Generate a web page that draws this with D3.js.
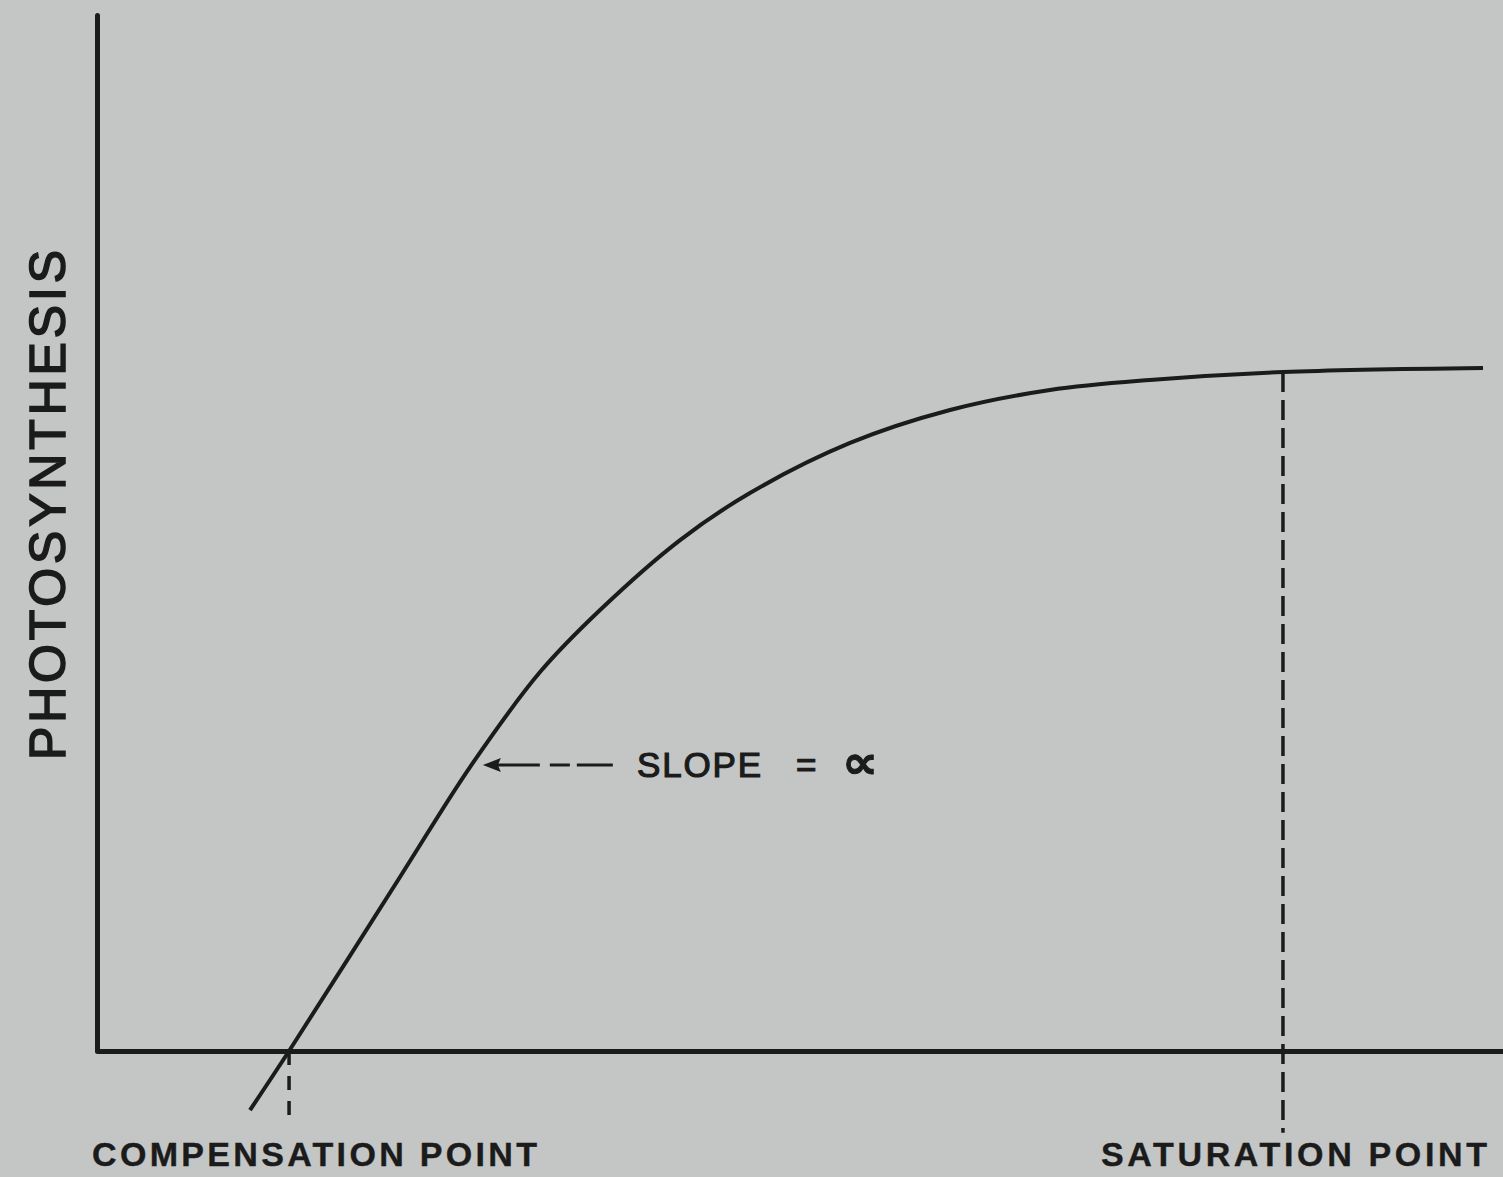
<!DOCTYPE html>
<html>
<head>
<meta charset="utf-8">
<script src="https://cdn.jsdelivr.net/npm/d3@7"></script>
<style>
  body { margin: 0; background: #c4c6c5; }
  svg { display: block; }
</style>
</head>
<body>
<div id="chart"></div>
<script>
// light intensity (arbitrary units) and photosynthesis rate
var light = [10.88, 13.66, 21.55, 26.53, 31.51, 35.78, 41.47, 46.44, 53.56, 60.67, 67.78, 74.89, 84.35, 98.58];
var rate  = [-5.70, 0.00, 16.80, 27.41, 36.58, 42.57, 49.32, 53.86, 58.69, 61.87, 63.80, 64.77, 65.54, 65.93];

var compensationPoint = 13.66;
var saturationPoint = 84.35;
var slopeAt = [27.3, 27.6];   // where the slope arrow touches the curve
var labels = ["COMPENSATION POINT", "SATURATION POINT"];

var ink = "#1b1b1b";
var font = "Liberation Sans, Arial, sans-serif";

var svg = d3.select("#chart")
            .append("svg")
            .attr("width", 1503)
            .attr("height", 1177);

var x = d3.scaleLinear().domain([0, 100]).range([97, 1503]);
var y = d3.scaleLinear().domain([0, 100]).range([1051, 15]);

// axes, no ticks
svg.append("g")
    .attr("transform", "translate(0," + y(0) + ")")
    .call(d3.axisBottom(x).ticks(0).tickSizeOuter(0))
    .select(".domain")
    .attr("stroke", ink)
    .attr("stroke-width", 5);

svg.append("g")
    .attr("transform", "translate(" + x(0) + ",0)")
    .call(d3.axisLeft(y).ticks(0).tickSizeOuter(0))
    .select(".domain")
    .attr("stroke", ink)
    .attr("stroke-width", 5)
    .attr("stroke-linecap", "round");

// dashed markers
svg.append("line")
    .attr("x1", x(compensationPoint)).attr("x2", x(compensationPoint))
    .attr("y1", y(0)).attr("y2", y(-7.1))
    .attr("stroke", ink).attr("stroke-width", 3.5)
    .attr("stroke-dasharray", "14,11");

svg.append("line")
    .attr("x1", x(saturationPoint)).attr("x2", x(saturationPoint))
    .attr("y1", y(rate[12])).attr("y2", y(-7.9))
    .attr("stroke", ink).attr("stroke-width", 3.5)
    .attr("stroke-dasharray", "20,8");

// curve
var pts = light.map(function(d, i) { return [d, rate[i]]; });
svg.append("path")
    .datum(pts)
    .attr("fill", "none")
    .attr("stroke", ink)
    .attr("stroke-width", 4)
    .attr("d", d3.line()
        .x(function(d) { return x(d[0]); })
        .y(function(d) { return y(d[1]); })
        .curve(d3.curveCatmullRom.alpha(0.5)));

// slope arrow
var ax = x(slopeAt[0]) + 2, ay = y(slopeAt[1]);
svg.append("line")
    .attr("x1", ax + 130).attr("x2", ax + 12)
    .attr("y1", ay).attr("y2", ay)
    .attr("stroke", ink).attr("stroke-width", 3)
    .attr("stroke-dasharray", "36,7,20,10,80");
svg.append("path")
    .attr("d", "M" + ax + "," + ay + " l18,-7 l-3,7 l3,7 z")
    .attr("fill", ink);

function label(sel) {
    return sel.style("font-family", font)
              .style("fill", ink)
              .style("stroke", ink);
}

label(svg.append("text"))
    .attr("x", 637)
    .attr("y", ay + 12)
    .attr("textLength", 124)
    .attr("lengthAdjust", "spacing")
    .text("SLOPE")
    .style("font-size", 35)
    .style("stroke-width", 1.2);

label(svg.append("text"))
    .attr("x", 796)
    .attr("y", ay + 12)
    .text("=")
    .style("font-size", 35)
    .style("stroke-width", 1.2);

label(svg.append("text"))
    .attr("x", 842)
    .attr("y", ay + 13)
    .attr("textLength", 36)
    .attr("lengthAdjust", "spacingAndGlyphs")
    .text("∝")
    .style("font-family", "DejaVu Sans, sans-serif")
    .style("font-size", 46)
    .style("font-weight", "bold")
    .style("stroke-width", 1);

// axis label
label(svg.append("text"))
    .attr("transform", "translate(65,505)rotate(-90)")
    .attr("text-anchor", "middle")
    .attr("textLength", 510)
    .attr("lengthAdjust", "spacing")
    .text("PHOTOSYNTHESIS")
    .style("font-size", 50)
    .style("stroke-width", 1.6);

// point labels
label(svg.append("text"))
    .attr("x", 92)
    .attr("y", 1166)
    .attr("textLength", 445)
    .attr("lengthAdjust", "spacing")
    .text(labels[0])
    .style("font-weight", "bold")
    .style("font-size", 34)
    .style("stroke-width", 0.4);

label(svg.append("text"))
    .attr("x", 1101)
    .attr("y", 1166)
    .attr("textLength", 386)
    .attr("lengthAdjust", "spacing")
    .text(labels[1])
    .style("font-weight", "bold")
    .style("font-size", 34)
    .style("stroke-width", 0.4);
</script>
</body>
</html>
